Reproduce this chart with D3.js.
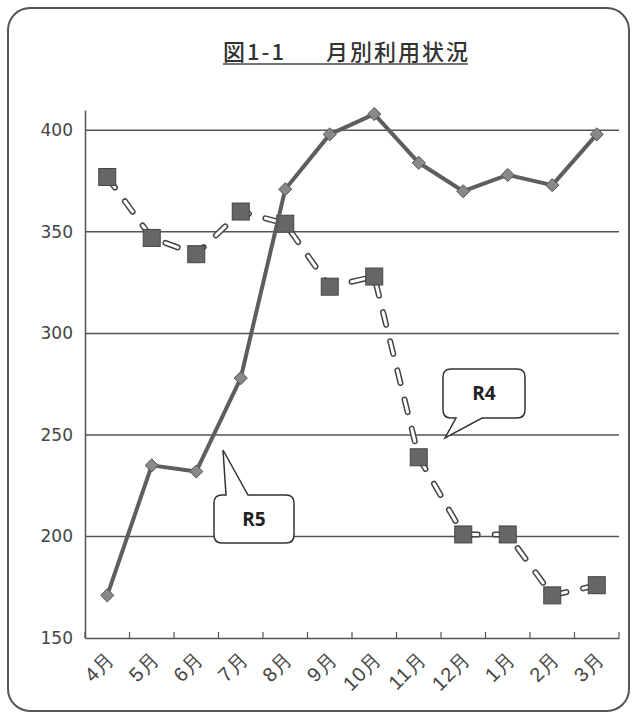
<!DOCTYPE html>
<html>
<head>
<meta charset="utf-8">
<script src="https://cdn.jsdelivr.net/npm/d3@7"></script>
<style>
  body { margin: 0; background: #fff; }
  svg { display: block; font-family: "Noto Sans CJK JP", "Noto Sans", sans-serif; }
</style>
</head>
<body>
<div id="chart"></div>
<script>
// Data
var months = ["4月", "5月", "6月", "7月", "8月", "9月", "10月", "11月", "12月", "1月", "2月", "3月"];
var r5Values = [171, 235, 232, 278, 371, 398, 408, 384, 370, 378, 373, 398];
var r4Values = [377, 347, 339, 360, 354, 323, 328, 239, 201, 201, 171, 176];
var yTicks = [150, 200, 250, 300, 350, 400];
var titleParts = ["図1-1", "月別利用状況"];

var width = 636, height = 718;

var svg = d3.select("#chart").append("svg")
    .attr("width", width)
    .attr("height", height);

// rounded outer frame
svg.append("rect")
    .attr("x", 8).attr("y", 8)
    .attr("width", 621).attr("height", 703)
    .attr("rx", 22).attr("ry", 22)
    .style("fill", "#fff")
    .style("stroke", "#555")
    .style("stroke-width", 2);

// title with underline
var title = svg.append("text")
    .attr("y", 60)
    .style("font-size", "22px")
    .style("font-weight", "500")
    .style("letter-spacing", "2px")
    .style("fill", "#333");
title.append("tspan").attr("x", 223).text(titleParts[0]);
title.append("tspan").attr("x", 326).text(titleParts[1]);
var tb = title.node().getBBox();
svg.append("line")
    .attr("x1", 223).attr("x2", tb.x + tb.width - 2)
    .attr("y1", 64).attr("y2", 64)
    .style("stroke", "#444").style("stroke-width", 1.5);

// scales
var x = d3.scaleBand().domain(months).range([85, 619]).padding(0);
var y = d3.scaleLinear().domain([150, 410]).range([638, 110]);
var cx = function (d, i) { return x(months[i]) + x.bandwidth() / 2; };

// horizontal gridlines
svg.selectAll(".grid")
    .data(yTicks.filter(function (t) { return t > 150; }))
    .enter().append("line")
    .attr("x1", 85).attr("x2", 619)
    .attr("y1", function (d) { return y(d); })
    .attr("y2", function (d) { return y(d); })
    .style("stroke", "#555").style("stroke-width", 1.5);

// y axis
var yAxis = svg.append("g")
    .attr("transform", "translate(85,0)")
    .call(d3.axisLeft(y).tickValues(yTicks).tickSize(0).tickPadding(12));
yAxis.select(".domain").style("stroke", "#555").style("stroke-width", 1.5);
yAxis.selectAll("text")
    .style("font-size", "17px")
    .style("fill", "#444")
    .style("font-family", "'DejaVu Sans', sans-serif");

// x axis with inward ticks at band edges
var xAxis = svg.append("g")
    .attr("transform", "translate(0,638)")
    .call(d3.axisBottom(x).tickSize(0).tickPadding(0));
xAxis.select(".domain").style("stroke", "#555").style("stroke-width", 1.5);
xAxis.selectAll("text")
    .attr("text-anchor", "end")
    .attr("y", 0)
    .attr("transform", "translate(4,17) rotate(-45)")
    .attr("dy", "0.35em")
    .style("font-size", "20px")
    .style("letter-spacing", "1px")
    .style("fill", "#444");
svg.selectAll(".xtick")
    .data(months.concat(["end"]))
    .enter().append("line")
    .attr("x1", function (d, i) { return 85 + i * x.bandwidth(); })
    .attr("x2", function (d, i) { return 85 + i * x.bandwidth(); })
    .attr("y1", 638).attr("y2", 632)
    .style("stroke", "#555").style("stroke-width", 1.2);

// R4 dashed double-outline line
var lineR4 = d3.line().x(cx).y(function (d) { return y(d); });
svg.append("path")
    .datum(r4Values)
    .attr("d", lineR4)
    .style("fill", "none")
    .style("stroke", "#444")
    .style("stroke-width", 6)
    .style("stroke-linecap", "round")
    .style("stroke-dasharray", "13 17");
svg.append("path")
    .datum(r4Values)
    .attr("d", lineR4)
    .style("fill", "none")
    .style("stroke", "#fff")
    .style("stroke-width", 3)
    .style("stroke-linecap", "round")
    .style("stroke-dasharray", "13 17");

// R4 square markers
svg.selectAll(".sq")
    .data(r4Values)
    .enter().append("rect")
    .attr("class", "sq")
    .attr("x", function (d, i) { return cx(d, i) - 8.5; })
    .attr("y", function (d) { return y(d) - 8.5; })
    .attr("width", 17).attr("height", 17)
    .style("fill", "#666")
    .style("stroke", "#444")
    .style("stroke-width", 1);

// R5 solid line
var lineR5 = d3.line().x(cx).y(function (d) { return y(d); });
svg.append("path")
    .datum(r5Values)
    .attr("d", lineR5)
    .style("fill", "none")
    .style("stroke", "#5e5e5e")
    .style("stroke-width", 4)
    .style("stroke-linejoin", "round");

// R5 diamond markers
svg.selectAll(".dm")
    .data(r5Values)
    .enter().append("path")
    .attr("class", "dm")
    .attr("d", d3.symbol().type(d3.symbolDiamond2).size(110))
    .attr("transform", function (d, i) { return "translate(" + cx(d, i) + "," + y(d) + ")"; })
    .style("fill", "#888")
    .style("stroke", "#555")
    .style("stroke-width", 1);

// callouts
function callout(bx, by, bw, bh, tip, base1, base2, label) {
    var r = 8;
    var p = d3.path();
    p.moveTo(bx + r, by);
    if (tip[1] < by) {
        p.lineTo(base1, by); p.lineTo(tip[0], tip[1]); p.lineTo(base2, by);
    }
    p.lineTo(bx + bw - r, by);
    p.quadraticCurveTo(bx + bw, by, bx + bw, by + r);
    p.lineTo(bx + bw, by + bh - r);
    p.quadraticCurveTo(bx + bw, by + bh, bx + bw - r, by + bh);
    if (tip[1] > by + bh) {
        p.lineTo(base2, by + bh); p.lineTo(tip[0], tip[1]); p.lineTo(base1, by + bh);
    }
    p.lineTo(bx + r, by + bh);
    p.quadraticCurveTo(bx, by + bh, bx, by + bh - r);
    p.lineTo(bx, by + r);
    p.quadraticCurveTo(bx, by, bx + r, by);
    p.closePath();
    svg.append("path")
        .attr("d", p.toString())
        .style("fill", "#fff")
        .style("stroke", "#333")
        .style("stroke-width", 1.5);
    svg.append("text")
        .attr("x", bx + bw / 2).attr("y", by + bh / 2)
        .attr("text-anchor", "middle")
        .attr("dy", "0.36em")
        .style("font-family", "'Open Sans', 'Noto Sans', sans-serif")
        .style("font-weight", "bold")
        .style("font-size", "19px")
        .style("fill", "#222")
        .text(label);
}

callout(443, 369, 82, 49, [445, 438], 456, 482, "R4");
callout(214, 495, 80, 48, [223, 450], 226, 248, "R5");
</script>
</body>
</html>
